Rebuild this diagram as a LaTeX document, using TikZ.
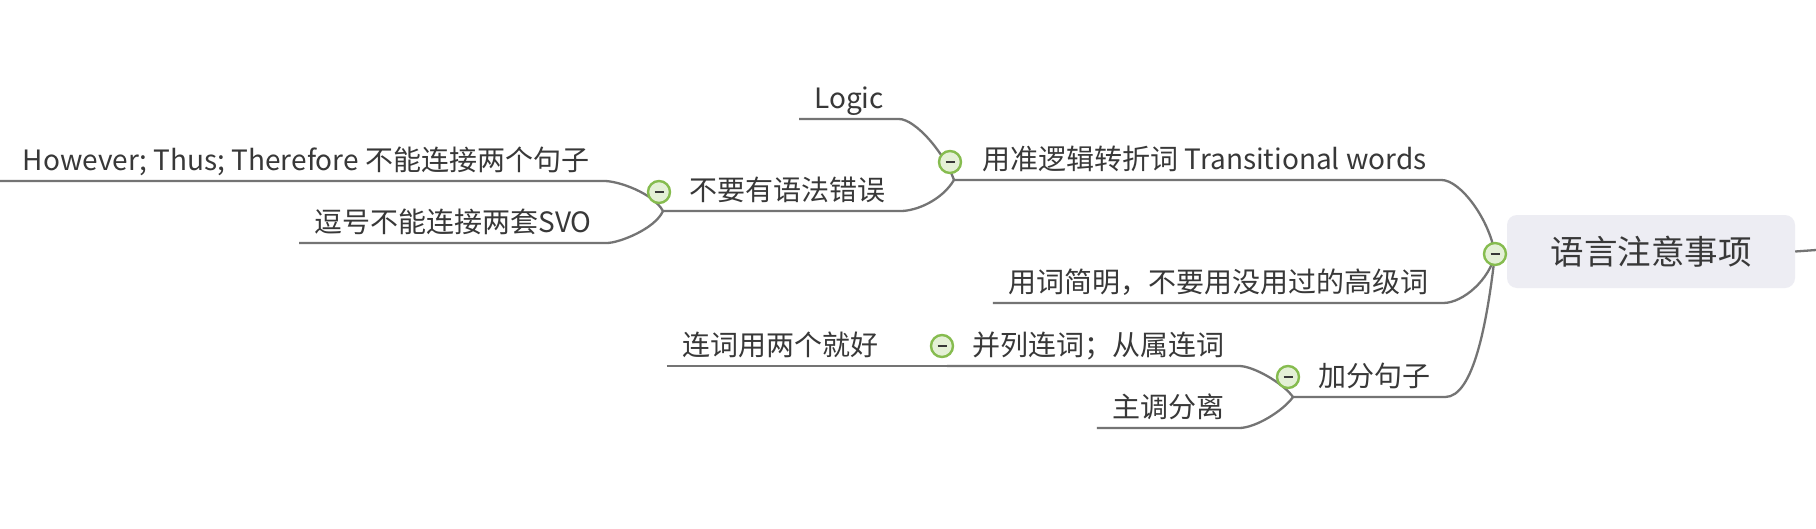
\documentclass[tikz,border=0pt]{standalone}
\usepackage{fontspec}
\setmainfont{Noto Sans CJK SC}
\usetikzlibrary{positioning}
\definecolor{linegray}{HTML}{747474}
\definecolor{txtgray}{HTML}{383838}
\definecolor{rootfill}{HTML}{EDEDF3}
\definecolor{ringgreen}{HTML}{86BC4F}
\definecolor{knobfill}{HTML}{E4F0D6}

\begin{document}
\begin{tikzpicture}[x=1pt,y=-1pt,
  topic/.style={font=\fontsize{28}{34}\selectfont,text=txtgray,inner xsep=15pt,inner ysep=2.5pt,text height=22pt,text depth=8pt,anchor=south},
  rootbox/.style={rectangle,rounded corners=10pt,fill=rootfill,minimum width=288pt,minimum height=73pt,font=\fontsize{33.5}{40}\selectfont,text=txtgray},
  knob/.style={circle,draw=ringgreen,line width=2.4pt,fill=knobfill,minimum size=22pt,inner sep=0pt,
    path picture={\draw[line width=1.8pt,txtgray] ([xshift=-4.5pt]path picture bounding box.center) -- ([xshift=4.5pt]path picture bounding box.center);}},
  branch/.style={draw=linegray,line width=2.3pt}]
  \fill[white] (0,0) rectangle (1816,528);
  \useasboundingbox (0,0) rectangle (1816,528);

  \node[rootbox] (root) at (1651,251.5) {语言注意事项};
  \coordinate (rootout) at (1816,250);
  \coordinate (rootj) at (1495,254);

  \node[topic] (trans) at (1204.5,180) {用准逻辑转折词 Transitional words};
  \node[topic] (logic) at (849,119) {Logic};
  \node[topic] (gram) at (787.5,211) {不要有语法错误};
  \node[topic] (however) at (306,181) {However; Thus; Therefore 不能连接两个句子};
  \node[topic] (comma) at (453,243) {逗号不能连接两套SVO};
  \node[topic] (simple) at (1218,303) {用词简明，不要用没用过的高级词};
  \node[topic] (add) at (1374,397) {加分句子};
  \node[topic] (par) at (1098,366) {并列连词；从属连词};
  \node[topic] (lianci) at (780,366) {连词用两个就好};
  \node[topic] (subj) at (1168,428) {主调分离};

  \coordinate (transj) at (954,180);
  \coordinate (gramj) at (663,211);
  \coordinate (addj) at (1293,397);
  \coordinate (parj) at (947,366);
  \coordinate (howl) at (0,181);

  \draw[branch] (root.east) -- (rootout);
  \draw[branch] (transj) -- (trans.south east) .. controls +(18,0) and +(-6,-36) .. (rootj);
  \draw[branch] (simple.south west) -- (simple.south east) .. controls +(20,0) and +(-5,25) .. (rootj);
  \draw[branch] (addj) -- (add.south east) .. controls +(28,0) and +(-8,70) .. (rootj);
  \draw[branch] (logic.south west) -- (logic.south east) .. controls +(16,0) and +(-10,-28) .. (transj);
  \draw[branch] (gramj) -- (gram.south east) .. controls +(16,0) and +(-12,20) .. (transj);
  \draw[branch] (howl) -- (however.south east) .. controls +(14,0) and +(-10,-18) .. (gramj);
  \draw[branch] (comma.south west) -- (comma.south east) .. controls +(12,0) and +(-8,18) .. (gramj);
  \draw[branch] (parj) -- (par.south east) .. controls +(14,0) and +(-10,-14) .. (addj);
  \draw[branch] (subj.south west) -- (subj.south east) .. controls +(16,0) and +(-10,14) .. (addj);
  \draw[branch] (lianci.south west) -- (parj);

  \node[knob] (rootk) at (rootj) {};
  \node[knob] (transk) at (950,162) {};
  \node[knob] (gramk) at (659,192) {};
  \node[knob] (addk) at (1288,377) {};
  \node[knob] (park) at (942,346) {};
\end{tikzpicture}
\end{document}
